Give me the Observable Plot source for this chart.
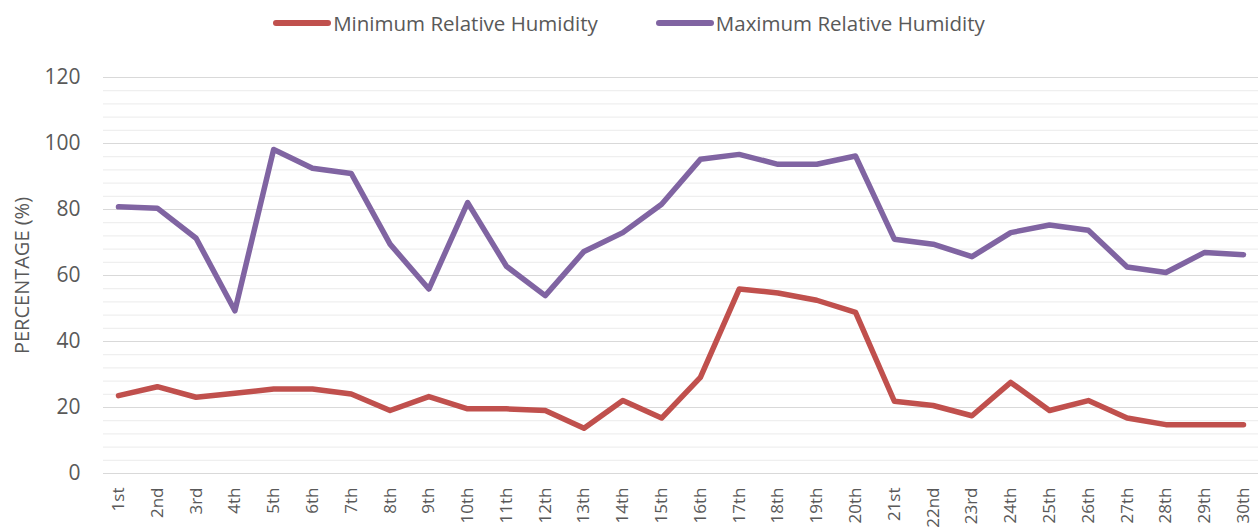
<!DOCTYPE html>
<html>
<head>
<meta charset="utf-8">
<script src="https://cdn.jsdelivr.net/npm/d3@7"></script>
<script src="https://cdn.jsdelivr.net/npm/@observablehq/plot@0.6"></script>
<style>
  html, body { margin: 0; padding: 0; background: #fff; }
  #legend { height: 45px; display: flex; justify-content: center; align-items: center; gap: 58px; font-family: "Open Sans", sans-serif; font-size: 20.5px; color: #595959; padding-left: 0; }
  .item { display: flex; align-items: center; }
  .sw { width: 58px; height: 6px; border-radius: 3px; margin-right: 2px; }
</style>
</head>
<body>
<div id="legend"></div>
<div id="chart"></div>
<script>
const days = ["1st","2nd","3rd","4th","5th","6th","7th","8th","9th","10th","11th","12th","13th","14th","15th","16th","17th","18th","19th","20th","21st","22nd","23rd","24th","25th","26th","27th","28th","29th","30th"];
const seriesNames = ["Minimum Relative Humidity", "Maximum Relative Humidity"];
const seriesColors = ["#C0504D", "#8064A2"];
const minRH = [23.6, 26.3, 23.1, 24.3, 25.6, 25.6, 24.1, 19.1, 23.3, 19.6, 19.6, 19.1, 13.7, 22.1, 16.8, 29.1, 55.9, 54.7, 52.5, 48.8, 21.9, 20.6, 17.5, 27.6, 19.1, 22.1, 16.8, 14.8, 14.8, 14.8];
const maxRH = [80.8, 80.4, 71.3, 49.3, 98.2, 92.5, 90.9, 69.5, 55.9, 82.1, 62.8, 53.9, 67.3, 73.0, 81.6, 95.2, 96.7, 93.7, 93.7, 96.2, 71.0, 69.5, 65.7, 73.0, 75.3, 73.7, 62.6, 60.9, 67.0, 66.3];
const majorTicks = [0, 20, 40, 60, 80, 100, 120];
const minorTicks = [4, 8, 12, 16, 24, 28, 32, 36, 44, 48, 52, 56, 64, 68, 72, 76, 84, 88, 92, 96, 104, 108, 112, 116];
const yTitle = "PERCENTAGE (%)";

const legend = document.getElementById("legend");
seriesNames.forEach((name, i) => {
  const it = document.createElement("div");
  it.className = "item";
  const sw = document.createElement("div");
  sw.className = "sw";
  sw.style.background = seriesColors[i];
  const tx = document.createElement("span");
  tx.textContent = name;
  it.appendChild(sw); it.appendChild(tx);
  legend.appendChild(it);
});

const data = [];
days.forEach((d, i) => {
  data.push({day: d, series: seriesNames[0], value: minRH[i]});
  data.push({day: d, series: seriesNames[1], value: maxRH[i]});
});

const chart = Plot.plot({
  width: 1258,
  height: 483,
  marginLeft: 103,
  marginRight: 0,
  marginTop: 32,
  marginBottom: 55,
  style: {fontFamily: "Open Sans, sans-serif", color: "#595959", background: "#fff", overflow: "visible"},
  x: {type: "point", domain: days, padding: 0.387, round: false, label: null},
  y: {domain: [0, 120], label: null},
  color: {domain: seriesNames, range: seriesColors},
  marks: [
    Plot.ruleY(minorTicks, {stroke: "#efefef", strokeWidth: 1.2}),
    Plot.ruleY(majorTicks, {stroke: "#d9d9d9", strokeWidth: 1.2}),
    Plot.axisY({ticks: majorTicks, tickSize: 0, tickPadding: 23, fontSize: 21, label: null}),
    Plot.text([yTitle], {frameAnchor: "left", dx: -81, rotate: -90, textAnchor: "middle", lineAnchor: "middle", fontSize: 20, fill: "#595959"}),
    Plot.axisX({tickSize: 0, tickPadding: 14, tickRotate: -90, fontSize: 17, label: null}),
    Plot.line(data, {x: "day", y: "value", z: "series", stroke: "series", strokeWidth: 5.5, strokeLinejoin: "round", strokeLinecap: "round"})
  ]
});
document.getElementById("chart").appendChild(chart);
</script>
</body>
</html>
